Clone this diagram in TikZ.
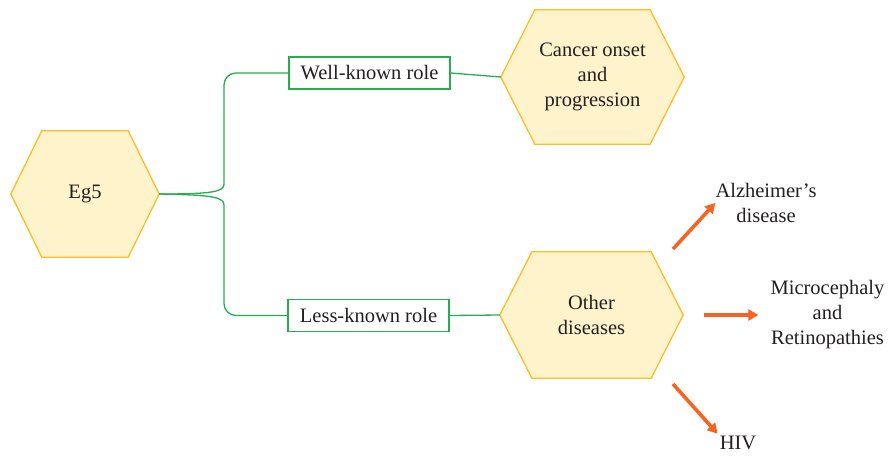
\documentclass[tikz,border=0pt]{standalone}
\usepackage{fontspec}
\setmainfont{Liberation Serif}
\usetikzlibrary{arrows.meta,backgrounds}
\definecolor{hexfill}{RGB}{255, 243, 204}
\definecolor{hexborder}{RGB}{250, 190, 40}
\definecolor{rolegreen}{RGB}{40, 172, 80}
\definecolor{arrorange}{RGB}{245, 100, 35}
\definecolor{txtgray}{RGB}{35, 31, 32}
\tikzset{
  hexnode/.style={align=center, text=txtgray, inner sep=0pt},
  hexline/.style={draw=hexborder, fill=hexfill, line width=1.3pt},
  rolebox/.style={draw=rolegreen, line width=1.4pt, text=txtgray, minimum width=161pt, minimum height=32pt, inner sep=0pt},
  link/.style={rolegreen, line width=1.3pt},
  arr/.style={arrorange, line width=3.6pt, -{Triangle[length=10pt,width=11pt]}},
  label/.style={align=center, text=txtgray, inner sep=0pt}
}
\begin{document}
\begin{tikzpicture}[x=1pt,y=-1pt,font=\fontsize{20.5}{25}\selectfont]
  \useasboundingbox (0,0) rectangle (888,455);
  \node[hexnode, minimum width=148pt, minimum height=126pt] (eg5) at (85,194) {Eg5};
  \node[hexnode, minimum width=183pt, minimum height=134pt] (cancer) at (592.5,77) {Cancer onset\\and\\progression};
  \node[hexnode, minimum width=183pt, minimum height=126pt] (other) at (591.5,315) {Other\\diseases};
  \begin{scope}[on background layer]
    \foreach \n/\d in {eg5/31,cancer/34,other/32}
      \draw[hexline] (\n.west) -- ([xshift=\d pt]\n.north west) -- ([xshift=-\d pt]\n.north east)
        -- (\n.east) -- ([xshift=-\d pt]\n.south east) -- ([xshift=\d pt]\n.south west) -- cycle;
  \end{scope}
  \node[rolebox] (well) at (369.5,73) {Well-known role};
  \node[rolebox] (less) at (368.5,315.5) {Less-known role};
  \coordinate (upbend) at (224,184);
  \coordinate (downbend) at (224,205);
  \draw[link] (eg5.east) .. controls (212,194) and (224,192) .. (upbend) [rounded corners=12pt] |- (well.west);
  \draw[link] (eg5.east) .. controls (212,195) and (224,197) .. (downbend) [rounded corners=12pt] |- (less.west);
  \draw[link] (well.east) -- (cancer.west);
  \draw[link] (less.east) -- (other.west);
  \node[label] (alz) at (766,203) {Alzheimer’s\\disease};
  \node[label] (micro) at (827.5,315) {Microcephaly\\and\\Retinopathies};
  \node[label] (hiv) at (738,443) {HIV};
  \coordinate (alzfrom) at (673,249);
  \coordinate (hivfrom) at (673,384);
  \draw[arr] (alzfrom) -- (alz.west);
  \draw[arr, shorten <=21pt, shorten >=12pt] (other.east) -- (micro.west);
  \draw[arr, shorten >=3pt] (hivfrom) -- (hiv.north west);
\end{tikzpicture}
\end{document}
